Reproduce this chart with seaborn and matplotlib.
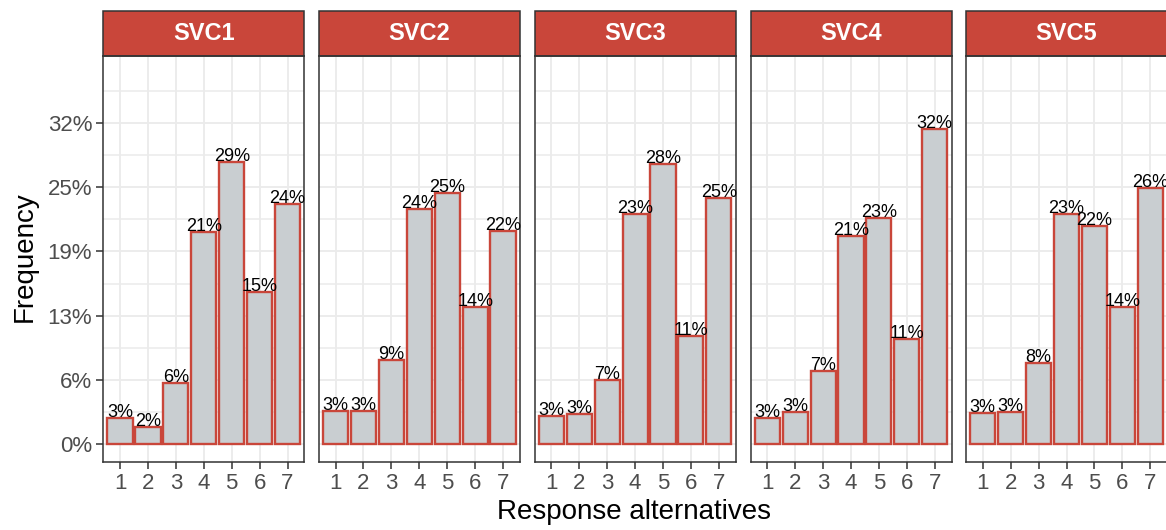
import numpy as np
import pandas as pd
import matplotlib
matplotlib.use("Agg")
import matplotlib.pyplot as plt
from matplotlib.patches import Rectangle
import seaborn as sns

panels = ["SVC1", "SVC2", "SVC3", "SVC4", "SVC5"]
responses = [1, 2, 3, 4, 5, 6, 7]
svc1 = [0.0257, 0.0174, 0.0602, 0.2093, 0.2790, 0.1507, 0.2370]
svc2 = [0.0326, 0.0326, 0.0829, 0.2320, 0.2485, 0.1356, 0.2106]
svc3 = [0.0276, 0.0296, 0.0639, 0.2277, 0.2770, 0.1070, 0.2430]
svc4 = [0.0263, 0.0319, 0.0724, 0.2053, 0.2234, 0.1040, 0.3117]
svc5 = [0.0309, 0.0319, 0.0806, 0.2277, 0.2155, 0.1356, 0.2534]
labels1 = ["3%", "2%", "6%", "21%", "29%", "15%", "24%"]
labels2 = ["3%", "3%", "9%", "24%", "25%", "14%", "22%"]
labels3 = ["3%", "3%", "7%", "23%", "28%", "11%", "25%"]
labels4 = ["3%", "3%", "7%", "21%", "23%", "11%", "32%"]
labels5 = ["3%", "3%", "8%", "23%", "22%", "14%", "26%"]
y_breaks = [0.0, 0.0635, 0.127, 0.1905, 0.254, 0.3175]
y_tick_labels = ["0%", "6%", "13%", "19%", "25%", "32%"]

values = [svc1, svc2, svc3, svc4, svc5]
labels = [labels1, labels2, labels3, labels4, labels5]
rows = []
for p, vals, labs in zip(panels, values, labels):
    for r, v, l in zip(responses, vals, labs):
        rows.append({"panel": p, "response": str(r), "freq": v, "label": l})
df = pd.DataFrame(rows)

sns.set_theme(style="white")
plt.rcParams["font.family"] = ["Liberation Sans", "DejaVu Sans"]

RED = "#C9463A"
BARFILL = "#C9CED1"
GRID = "#EBEBEB"
BORDER = "#333333"
TICKCOL = "#4D4D4D"

W, H = 1166, 530
fig = plt.figure(figsize=(W / 100, H / 100), dpi=100)
fig.patch.set_facecolor("white")

lefts = [103.3, 318.8, 534.6, 750.5, 966.0]
pw = 201.0
top_px, bot_px = 56.0, 461.7
strip_h = 45.0
ph = bot_px - top_px

minor_breaks = [(a + b) / 2 for a, b in zip(y_breaks[:-1], y_breaks[1:])] + [y_breaks[-1] + (y_breaks[1] - y_breaks[0]) / 2]

for i, p in enumerate(panels):
    ax = fig.add_axes([lefts[i] / W, (H - bot_px) / H, pw / W, ph / H])
    sub = df[df["panel"] == p]
    ax.set_axisbelow(True)
    sns.barplot(data=sub, x="response", y="freq", ax=ax, color=BARFILL,
                edgecolor=RED, linewidth=1.7, width=0.9, saturation=1,
                errorbar=None, order=[str(r) for r in responses])
    ax.set_xlim(-0.6, 6.6)
    ax.set_ylim(-0.0172, 0.3834)
    ax.set_yticks(y_breaks)
    ax.set_yticks(minor_breaks, minor=True)
    ax.grid(True, which="major", color=GRID, linewidth=1.3)
    ax.grid(True, which="minor", axis="y", color=GRID, linewidth=1.1)
    for xi, (v, l) in enumerate(zip(sub["freq"], sub["label"])):
        ax.text(xi, v - 0.003, l, ha="center", va="bottom", fontsize=13, color="black")
    ax.set_xlabel("")
    ax.set_ylabel("")
    ax.tick_params(axis="both", which="major", length=5, width=1.1, color=BORDER,
                   labelsize=16, labelcolor=TICKCOL, pad=3, bottom=True, left=(i == 0))
    ax.tick_params(axis="both", which="minor", length=0)
    if i == 0:
        ax.set_yticklabels(y_tick_labels)
    else:
        ax.set_yticklabels([])
        ax.tick_params(axis="y", left=False)
    for s in ax.spines.values():
        s.set_color(BORDER)
        s.set_linewidth(1.1)
    # facet strip
    sh = strip_h / ph
    rect = Rectangle((0, 1), 1, sh, transform=ax.transAxes, facecolor=RED,
                     edgecolor=BORDER, linewidth=1.1, clip_on=False)
    ax.add_patch(rect)
    ax.text(0.5, 1 + sh / 2, p, transform=ax.transAxes, ha="center", va="center",
            color="white", fontsize=17, fontweight="bold")

fig.text(634 / W, 1 - 512 / H, "Response alternatives", ha="center", va="center",
         fontsize=20, color="black")
fig.text(25 / W, 1 - 257 / H, "Frequency", ha="center", va="center",
         rotation=90, fontsize=20, color="black")

fig.savefig("out.png", dpi=100, facecolor="white")
